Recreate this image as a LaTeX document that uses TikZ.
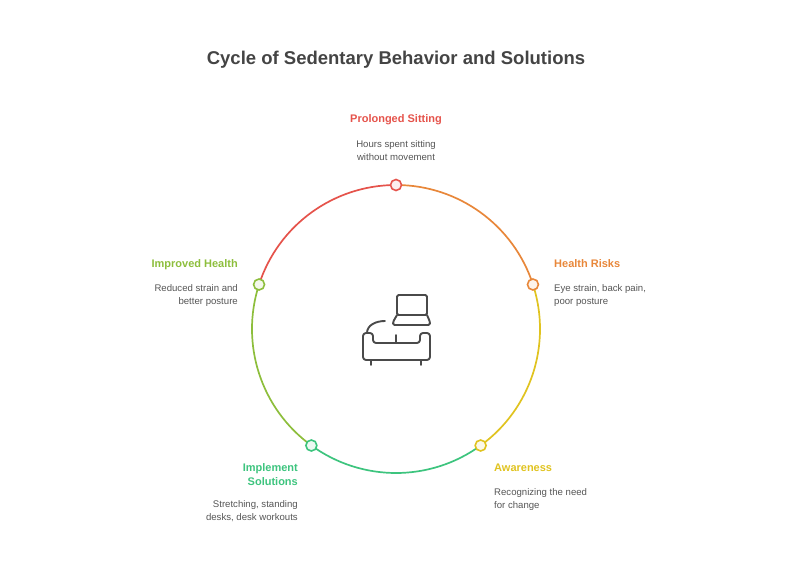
\documentclass[tikz,border=0pt]{standalone}
\usepackage{fontspec}
\setmainfont{Liberation Sans}
\usetikzlibrary{calc}
\definecolor{sitred}{HTML}{E5534B}
\definecolor{riskorange}{HTML}{E8873A}
\definecolor{awareyellow}{HTML}{E0C320}
\definecolor{solgreen}{HTML}{3DC47E}
\definecolor{healthlime}{HTML}{8DBE3C}
\definecolor{titlegray}{HTML}{444444}
\definecolor{descgray}{HTML}{555555}
\definecolor{icongray}{HTML}{4A4A4A}
\begin{document}
\begin{tikzpicture}[x=1pt, y=1pt,
    ring/.style={draw=#1, line width=1.7pt},
    stepdot/.style={circle, draw=#1, fill=#1!10, line width=1.6pt, inner sep=0pt, minimum size=11pt},
    steptitle/.style={font=\bfseries\fontsize{11}{14}\selectfont, text=#1, inner sep=0pt},
    stepdesc/.style={font=\fontsize{9.6}{13}\selectfont, text=descgray, inner sep=0pt, align=#1},
    icon/.style={draw=icongray, line width=1.9pt, line cap=round, line join=round}]

	\useasboundingbox (0,0) rectangle (792,571);

	\node[font=\bfseries\fontsize{18.5}{22}\selectfont, text=titlegray] (title) at (396,511) {Cycle of Sedentary Behavior and Solutions};

	% points on the ring
	\coordinate (c) at (396,242);
	\coordinate (p1) at ($(c)+(90:144)$);
	\coordinate (p2) at ($(c)+(18:144)$);
	\coordinate (p3) at ($(c)+(-54:144)$);
	\coordinate (p4) at ($(c)+(-126:144)$);
	\coordinate (p5) at ($(c)+(162:144)$);

	\draw[ring=riskorange] (p1) arc[start angle=90, end angle=18, radius=144];
	\draw[ring=awareyellow] (p2) arc[start angle=18, end angle=-54, radius=144];
	\draw[ring=solgreen] (p3) arc[start angle=-54, end angle=-126, radius=144];
	\draw[ring=healthlime] (p4) arc[start angle=-126, end angle=-198, radius=144];
	\draw[ring=sitred] (p5) arc[start angle=162, end angle=90, radius=144];

	\node[stepdot=sitred] (sitting) at (p1) {};
	\node[stepdot=riskorange] (risks) at (p2) {};
	\node[stepdot=awareyellow] (aware) at (p3) {};
	\node[stepdot=solgreen] (solutions) at (p4) {};
	\node[stepdot=healthlime] (health) at (p5) {};

	% labels (base = last line)
	\node[steptitle=sitred, anchor=base] (sittingT) at (396,448) {Prolonged Sitting};
	\node[stepdesc=center, anchor=base] (sittingD) at (396,410.5) {Hours spent sitting\\without movement};

	\node[steptitle=riskorange, anchor=base west] (risksT) at (554,303) {Health Risks};
	\node[stepdesc=left, anchor=base west] (risksD) at (554,266.5) {Eye strain, back pain,\\poor posture};

	\node[steptitle=awareyellow, anchor=base west] (awareT) at (494,100) {Awareness};
	\node[stepdesc=left, anchor=base west] (awareD) at (494,62.5) {Recognizing the need\\for change};

	\node[steptitle=solgreen, anchor=base east, align=right] (solutionsT) at (298,86) {Implement\\Solutions};
	\node[stepdesc=right, anchor=base east] (solutionsD) at (298,50.5) {Stretching, standing\\desks, desk workouts};

	\node[steptitle=healthlime, anchor=base east] (healthT) at (238,303) {Improved Health};
	\node[stepdesc=right, anchor=base east] (healthD) at (238,266.5) {Reduced strain and\\better posture};

	% sofa and laptop
	\draw[icon, rounded corners=1.5pt] (397,256) rectangle (427,276);
	\draw[icon, rounded corners=1.5pt] (397,256) -- (393,249) -- (393,246) -- (430,246) -- (430,249) -- (427,256);
	\draw[icon, rounded corners=3pt] (373,228) -- (373,238) -- (363,238) -- (363,211) -- (430,211) -- (430,238) -- (420,238) -- (420,228) -- cycle;
	\draw[icon] (396,236) -- (396,228);
	\draw[icon] (371,211) -- (371,206);
	\draw[icon] (421,211) -- (421,206);
	\draw[icon] (367,238) .. controls (367,246) and (376,250) .. (385,250);
\end{tikzpicture}
\end{document}
